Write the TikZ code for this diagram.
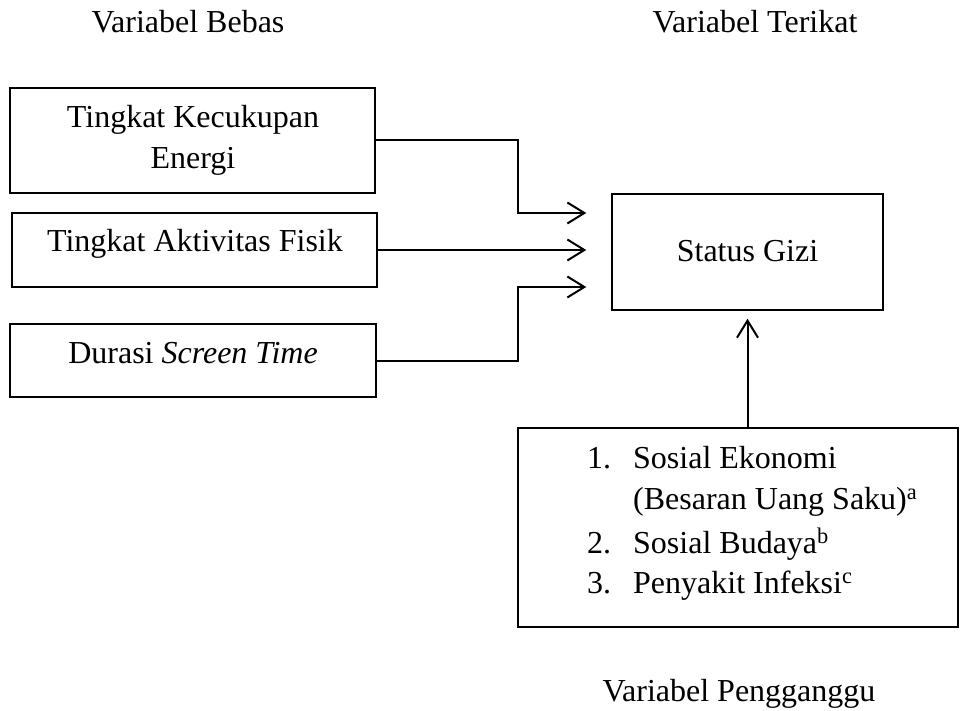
\documentclass[tikz,border=0pt]{standalone}
\usepackage{fontspec}
\setmainfont{Liberation Serif}
\usetikzlibrary{arrows.meta}
\begin{document}
\begin{tikzpicture}[x=1pt,y=-1pt,
  box/.style={draw,line width=1.5pt,inner sep=0pt,rectangle},
  txt/.style={font=\fontsize{32pt}{40pt}\selectfont,inner sep=0pt},
  arr/.style={line width=2pt,-{Straight Barb[length=17pt,width=21pt,line width=2pt]}}]
\useasboundingbox (0,0) rectangle (961,711);
% titles
\node[txt,anchor=base] (tb) at (188,33) {Variabel Bebas};
\node[txt,anchor=base] (tt) at (755,33) {Variabel Terikat};
\node[txt,anchor=base] (tp) at (739,701) {Variabel Pengganggu};
% boxes
\node[box,minimum width=365pt,minimum height=105pt] (b1) at (192.5,140.5) {};
\node[box,minimum width=365pt,minimum height=74pt] (b2) at (194.5,250) {};
\node[box,minimum width=366pt,minimum height=73pt] (b3) at (193,360.5) {};
\node[box,minimum width=271pt,minimum height=116pt] (sg) at (747.5,252) {};
\node[box,minimum width=440pt,minimum height=199pt] (bb) at (738,527.5) {};
% box texts
\node[txt,anchor=base] (t1a) at (193,128) {Tingkat Kecukupan};
\node[txt,anchor=base] (t1b) at (193,169) {Energi};
\node[txt,anchor=base] (t2) at (195,252) {Tingkat Aktivitas Fisik};
\node[txt,anchor=base] (t3) at (193,363) {Durasi \textit{Screen Time}};
\node[txt,anchor=base] (ts) at (747.5,262) {Status Gizi};
% list
\node[txt,anchor=base west] (n1) at (587,468) {1.};
\node[txt,anchor=base west] (l1) at (633,468) {Sosial Ekonomi};
\node[txt,anchor=base west] (l1b) at (633,509) {(Besaran Uang Saku)\textsuperscript{a}};
\node[txt,anchor=base west] (n2) at (587,553) {2.};
\node[txt,anchor=base west] (l2) at (633,553) {Sosial Budaya\textsuperscript{b}};
\node[txt,anchor=base west] (n3) at (587,593) {3.};
\node[txt,anchor=base west] (l3) at (633,593) {Penyakit Infeksi\textsuperscript{c}};
% connectors
\draw[arr,shorten >=25pt] (b1.east) -- ++(142,0) |- ([yshift=39pt]sg.west);
\draw[arr,shorten >=25pt] (b2.east) -- (b2.east -| sg.west);
\draw[arr,shorten >=25pt] (b3.east) -- ++(141,0) |- ([yshift=-35pt]sg.west);
\draw[arr,shorten >=8pt] (sg.south |- bb.north) -- (sg.south);
\end{tikzpicture}
\end{document}
